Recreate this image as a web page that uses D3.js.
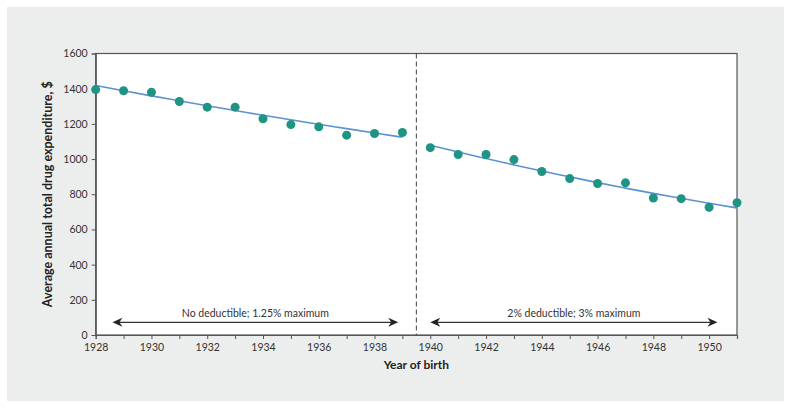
<!DOCTYPE html>
<html>
<head>
<meta charset="utf-8">
<script src="https://cdn.jsdelivr.net/npm/d3@7"></script>
<style>
  html, body { margin: 0; padding: 0; background: #ffffff; }
  svg { display: block; }
</style>
</head>
<body>
<svg id="chart" width="791" height="408"></svg>
<script>
// ---- Data ----
const yearsA = [1928, 1929, 1930, 1931, 1932, 1933, 1934, 1935, 1936, 1937, 1938, 1939];
const valuesA = [1395, 1388, 1380, 1327, 1295, 1295, 1229, 1196, 1183, 1136, 1145, 1151];
const fitA = [1418, 1388, 1359, 1331, 1303, 1276, 1249, 1223, 1198, 1173, 1148, 1124];

const yearsB = [1940, 1941, 1942, 1943, 1944, 1945, 1946, 1947, 1948, 1949, 1950, 1951];
const valuesB = [1065, 1026, 1026, 997, 929, 889, 861, 865, 779, 775, 726, 752];
const fitB = [1079, 1040, 1003, 967, 932, 899, 866, 835, 805, 777, 749, 722];

const xTickLabels = [1928, 1930, 1932, 1934, 1936, 1938, 1940, 1942, 1944, 1946, 1948, 1950];
const yTicks = [0, 200, 400, 600, 800, 1000, 1200, 1400, 1600];

const periodLabels = ["No deductible; 1.25% maximum", "2% deductible; 3% maximum"];
const periodStart = [1928.6, 1940.0];
const periodEnd = [1938.85, 1950.3];
const cutoffYear = 1939.5;

// ---- Layout ----
const svg = d3.select("#chart");
const W = 791, H = 408;
const margin = { left: 95.7, right: 791 - 737, top: 53.5, bottom: 408 - 335 };
const font = "Lato, 'Open Sans', sans-serif";

svg.append("rect").attr("x", 7).attr("y", 7).attr("width", 777).attr("height", 394)
  .attr("fill", "#eceeed");

const x = d3.scaleLinear().domain([1928, 1951]).range([margin.left, W - margin.right]);
const y = d3.scaleLinear().domain([0, 1600]).range([H - margin.bottom, margin.top]);

// plot area
svg.append("rect")
  .attr("x", x(1928)).attr("y", y(1600))
  .attr("width", x(1951) - x(1928)).attr("height", y(0) - y(1600))
  .attr("fill", "#ffffff").attr("stroke", "#555555").attr("stroke-width", 1.2);

// axes
const xAxis = d3.axisBottom(x)
  .tickValues(d3.range(1928, 1952))
  .tickSize(4)
  .tickFormat(d => xTickLabels.includes(d) ? String(d) : "");
const gx = svg.append("g").attr("transform", `translate(0,${y(0)})`).call(xAxis);
gx.select(".domain").attr("stroke", "#555555").attr("stroke-width", 1.2);
gx.selectAll(".tick line").attr("stroke", "#555555");
gx.selectAll(".tick text").attr("font-family", font).attr("font-size", 10.5)
  .attr("fill", "#333333").attr("dy", "0.95em").attr("y", 6);

const yAxis = d3.axisLeft(y).tickValues(yTicks).tickSize(4).tickFormat(d3.format("d"));
const gy = svg.append("g").attr("transform", `translate(${x(1928)},0)`).call(yAxis);
gy.select(".domain").attr("stroke", "#555555").attr("stroke-width", 1.2);
gy.selectAll(".tick line").attr("stroke", "#555555");
gy.selectAll(".tick text").attr("font-family", font).attr("font-size", 10.5)
  .attr("fill", "#333333").attr("x", -8);

// dashed cutoff
svg.append("line")
  .attr("x1", x(cutoffYear)).attr("x2", x(cutoffYear))
  .attr("y1", y(1600)).attr("y2", y(0))
  .attr("stroke", "#444444").attr("stroke-width", 1).attr("stroke-dasharray", "5,3");

// fit lines
const line = d3.line().x(d => x(d[0])).y(d => y(d[1])).curve(d3.curveMonotoneX);
[[yearsA, fitA], [yearsB, fitB]].forEach(([ys, vs]) => {
  svg.append("path").datum(ys.map((yr, i) => [yr, vs[i]]))
    .attr("d", line).attr("fill", "none")
    .attr("stroke", "#5b92d1").attr("stroke-width", 1.6);
});

// points
[[yearsA, valuesA], [yearsB, valuesB]].forEach(([ys, vs]) => {
  svg.append("g").selectAll("circle").data(ys.map((yr, i) => [yr, vs[i]])).join("circle")
    .attr("cx", d => x(d[0])).attr("cy", d => y(d[1])).attr("r", 4.5)
    .attr("fill", "#1f9485");
});

// period arrows
const arrowY = y(0) - 12.7;
function arrowHead(px, dir) {
  const L = 10, Hh = 4.5, notch = 3;
  const p = [
    [px, arrowY],
    [px - dir * L, arrowY - Hh],
    [px - dir * (L - notch), arrowY],
    [px - dir * L, arrowY + Hh]
  ];
  return "M" + p.map(q => q.join(",")).join("L") + "Z";
}
periodLabels.forEach((lab, i) => {
  const x0 = x(periodStart[i]), x1 = x(periodEnd[i]);
  svg.append("line").attr("x1", x0 + 4).attr("x2", x1 - 4)
    .attr("y1", arrowY).attr("y2", arrowY)
    .attr("stroke", "#333333").attr("stroke-width", 1.2);
  svg.append("path").attr("d", arrowHead(x0, -1)).attr("fill", "#222222");
  svg.append("path").attr("d", arrowHead(x1, 1)).attr("fill", "#222222");
  svg.append("text").attr("x", (x0 + x1) / 2).attr("y", arrowY - 5)
    .attr("text-anchor", "middle").attr("font-family", font).attr("font-size", 10.5)
    .attr("fill", "#333333").text(lab);
});

// axis titles
svg.append("text")
  .attr("x", (x(1928) + x(1951)) / 2).attr("y", 369)
  .attr("text-anchor", "middle").attr("font-family", font)
  .attr("font-weight", "bold").attr("font-size", 12).attr("fill", "#222222")
  .text("Year of birth");

svg.append("text")
  .attr("transform", `translate(52,${(y(0) + y(1600)) / 2}) rotate(-90)`)
  .attr("text-anchor", "middle").attr("font-family", font)
  .attr("font-weight", "bold").attr("font-size", 12.5).attr("fill", "#222222")
  .text("Average annual total drug expenditure, $");
</script>
</body>
</html>
